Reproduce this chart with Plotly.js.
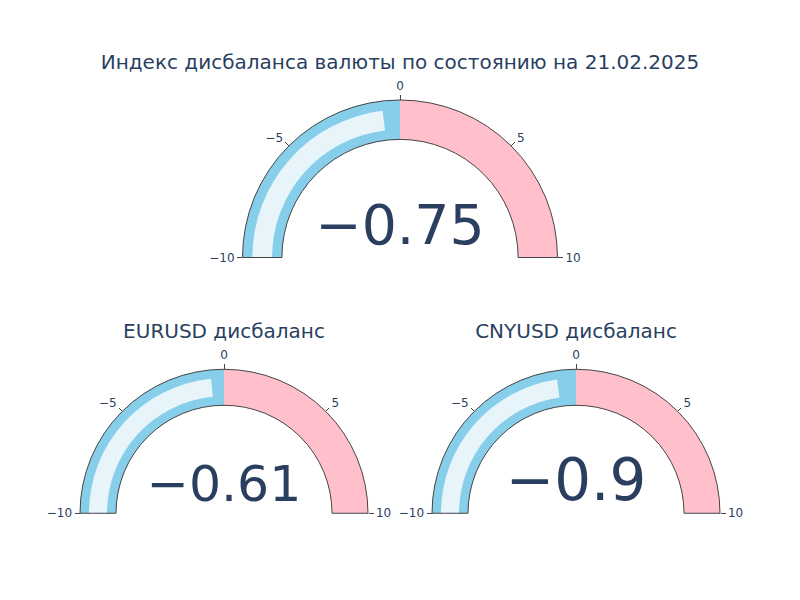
<!DOCTYPE html>
<html><head><meta charset="utf-8">
<script src="https://cdn.plot.ly/plotly-3.0.1.min.js"></script>
<style>body{margin:0}</style></head>
<body><div id="chart" style="width:800px;height:600px"></div>
<script>
const titles = ["Индекс дисбаланса валюты по состоянию на 21.02.2025", "EURUSD дисбаланс", "CNYUSD дисбаланс"];
const values = [-0.75, -0.61, -0.9];
const axisRange = [-10, 10];
const stepRanges = [[-10, 0], [0, 10]];
const stepColors = ["skyblue", "pink"];
const domains = [
  {x: [0, 1], y: [0.625, 1]},
  {x: [0, 0.45], y: [0, 0.375]},
  {x: [0.55, 1], y: [0, 0.375]}
];
const traces = values.map((v, i) => ({
  type: "indicator",
  mode: "gauge+number",
  value: v,
  domain: domains[i],
  title: {text: titles[i], font: {size: 20}},
  gauge: {
    axis: {range: axisRange, tickfont: {size: 12}},
    bar: {color: "rgba(255,255,255,0.8)"},
    bgcolor: "white",
    borderwidth: 1,
    bordercolor: "#444",
    steps: stepRanges.map((r, k) => ({range: r, color: stepColors[k]}))
  }
}));
Plotly.newPlot("chart", traces, {
  width: 800, height: 600,
  font: {family: "DejaVu Sans, Verdana, sans-serif", color: "#2a3f5f"},
  paper_bgcolor: "white"
}, {displayModeBar: false});
</script></body></html>
